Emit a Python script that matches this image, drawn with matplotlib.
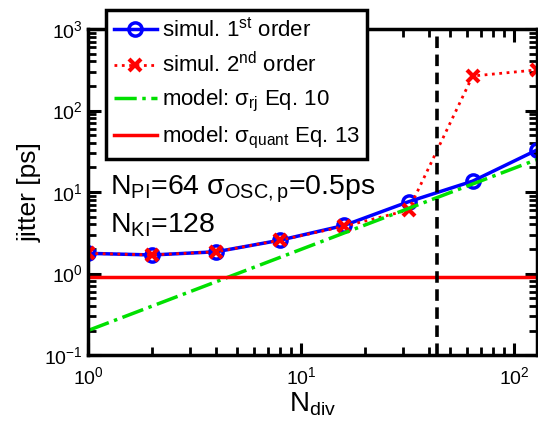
import matplotlib
matplotlib.use('Agg')
from matplotlib import pyplot as plt

plt.rcParams['font.family'] = ['Liberation Sans', 'DejaVu Sans']
plt.rcParams['mathtext.fontset'] = 'custom'
plt.rcParams['mathtext.rm'] = 'Liberation Sans'
plt.rcParams['mathtext.it'] = 'Liberation Sans'
plt.rcParams['mathtext.bf'] = 'Liberation Sans'

# jitter vs. divider ratio
n_div = [1, 2, 4, 8, 16, 32, 64, 128]
jitter_1st = [1.77, 1.69, 1.85, 2.57, 3.9, 7.6, 13.6, 32.7]
jitter_2nd = [1.77, 1.69, 1.85, 2.57, 3.8, 6.0, 265, 315]
rj_x = [1, 128]
rj_model = [0.2, 25.0]
quant_x = [1, 128]
quant_model = [0.91, 0.91]
n_div_max = 43.6

fig = plt.figure(figsize=(5.38, 4.33), dpi=100)
ax = fig.add_axes([0.1636, 0.180, 0.834, 0.753])

ax.plot(n_div, jitter_1st, '-o', color='blue', lw=2.5, ms=9.5, mfc='none', mew=2.5,
        label=r'simul. 1$^{\rm st}$ order')
ax.plot(n_div, jitter_2nd, ':x', color='red', lw=2, ms=8, mew=3,
        label=r'simul. 2$^{\rm nd}$ order')
ax.plot(rj_x, rj_model, '-.', color='#00e000', lw=2.5, label=r'model: $\sigma_{\rm rj}$ Eq. 10')
ax.plot(quant_x, quant_model, '-', color='red', lw=2.5, label=r'model: $\sigma_{\rm quant}$ Eq. 13')
ax.axvline(n_div_max, color='black', ls='--', lw=2.6, dashes=(3.2, 1.8))

ax.set_xscale('log')
ax.set_yscale('log')
ax.set_xlim(1, 128)
ax.set_ylim(0.1, 1000)

for s in ax.spines.values():
    s.set_linewidth(2.5)
ax.tick_params(which='both', direction='in', top=True, right=True, labelsize=14)
ax.tick_params(which='major', length=9, width=2.2)
ax.tick_params(which='minor', length=6, width=2)
ax.tick_params(axis='x', pad=8)

ax.set_xlabel(r'N$_{\rm div}$', fontsize=20, labelpad=2)
ax.set_ylabel('jitter [ps]', fontsize=19, labelpad=2)

ax.text(1.27, 9.2, r'N$_{\rm PI}$=64 $\sigma_{\rm OSC,p}$=0.5ps', fontsize=20.5, va='baseline')
ax.text(1.27, 3.23, r'N$_{\rm KI}$=128', fontsize=20.5, va='baseline')

leg = fig.legend(loc='upper left', bbox_to_anchor=(0.197, 0.977), fontsize=16,
                 handlelength=1.95, handletextpad=0.2, labelspacing=0.48,
                 fancybox=False, edgecolor='black', framealpha=1, borderpad=0.35,
                 borderaxespad=0)
leg.get_frame().set_linewidth(2.5)

fig.savefig('out.png', dpi=100)
